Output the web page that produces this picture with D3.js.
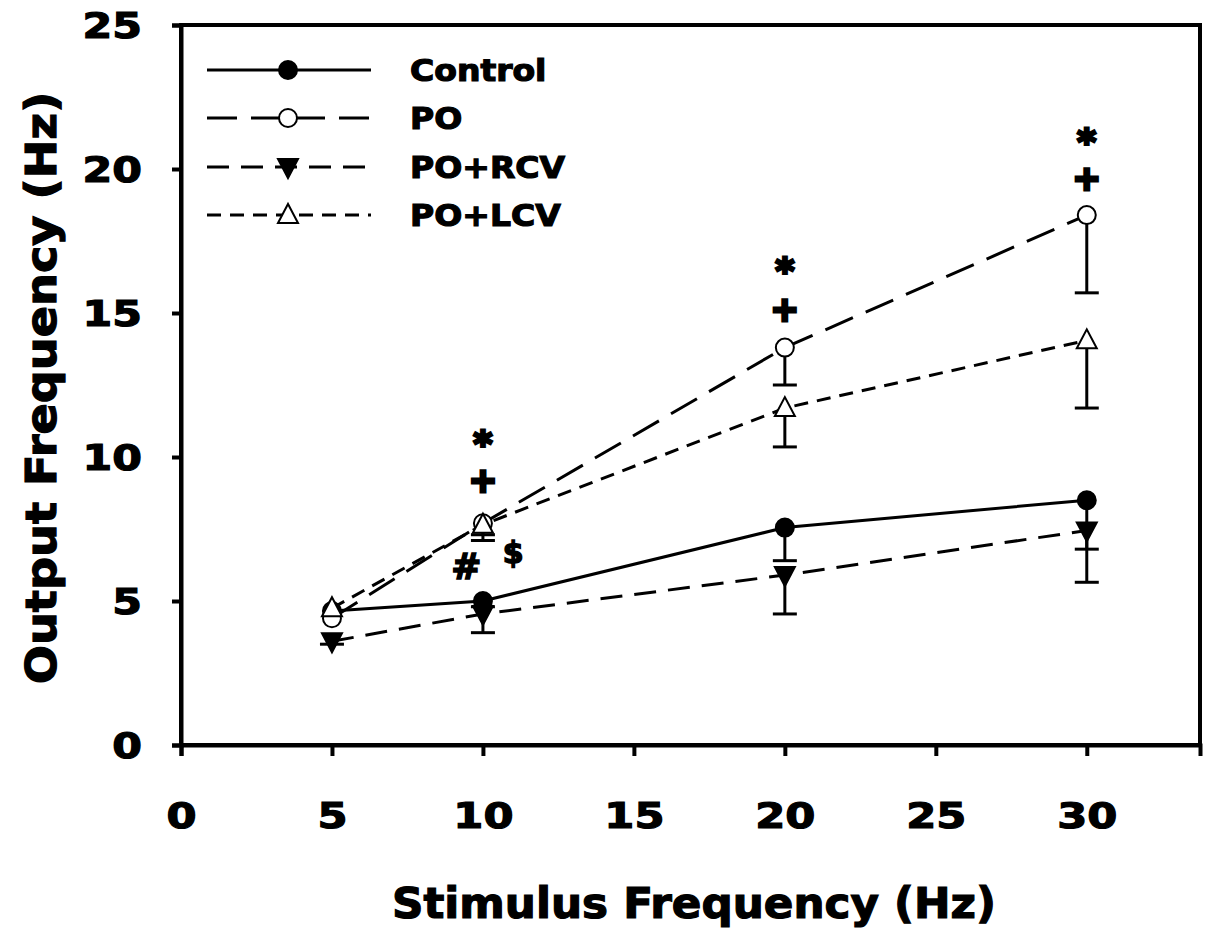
<!DOCTYPE html>
<html><head><meta charset="utf-8">
<script src="https://cdn.jsdelivr.net/npm/d3@7"></script>
<style>body{margin:0;background:#fff}</style>
</head><body><svg id="c" width="1206" height="930"></svg>
<script>
const stimulus = [5, 10, 20, 30];
const seriesNames = ["Control", "PO", "PO+RCV", "PO+LCV"];
const controlMean = [4.65, 5.0, 7.55, 8.5];
const controlLow  = [4.65, 4.8, 6.4, 6.8];
const poMean      = [4.4, 7.7, 13.8, 18.4];
const poLow       = [4.4, 7.3, 12.5, 15.7];
const rcvMean     = [3.6, 4.55, 5.9, 7.45];
const rcvLow      = [3.5, 3.9, 4.55, 5.65];
const lcvMean     = [4.75, 7.65, 11.7, 14.05];
const lcvLow      = [4.75, 7.1, 10.35, 11.7];
const xTicks = [0, 5, 10, 15, 20, 25, 30];
const yTicks = [0, 5, 10, 15, 20, 25];
const annotations = [
  {x:10, y:10.8, t:"*"}, {x:10, y:9.2, t:"+"},
  {x:20, y:16.8, t:"*"}, {x:20, y:15.15, t:"+"},
  {x:30, y:21.3, t:"*"}, {x:30, y:19.7, t:"+"},
  {x:9.45, y:6.2, t:"#"}, {x:11.0, y:6.7, t:"$"}
];

const svg = d3.select("#c");
const L = 181, R = 1200, T = 25, B = 745;
const x = d3.scaleLinear().domain([0, 33.75]).range([L, R]);
const y = d3.scaleLinear().domain([0, 25]).range([B, T]);
const FONT = "'DejaVu Sans', sans-serif";

function heavy(sel, size, widen) {
  sel.attr("font-family", FONT).attr("font-weight", "bold").attr("font-size", size)
    .attr("fill", "#000").attr("stroke", "#000").attr("stroke-width", 1.2);
  sel.each(function () {
    const w = this.getComputedTextLength();
    d3.select(this).attr("textLength", w * widen).attr("lengthAdjust", "spacingAndGlyphs");
  });
}

// frame
svg.append("rect").attr("x", L).attr("y", T).attr("width", R - L).attr("height", B - T)
  .attr("fill", "none").attr("stroke", "#000").attr("stroke-width", 4);

// axes
const yAxis = svg.append("g").attr("transform", `translate(${L},0)`)
  .call(d3.axisLeft(y).tickValues(yTicks).tickSize(9).tickPadding(30));
const xAxis = svg.append("g").attr("transform", `translate(0,${B})`)
  .call(d3.axisBottom(x).tickValues(xTicks).tickSize(11).tickPadding(50));
[yAxis, xAxis].forEach(g => {
  g.select(".domain").attr("stroke-width", 4);
  g.selectAll(".tick line").attr("stroke-width", 4);
});
yAxis.selectAll(".tick text").attr("dy", "0.36em").call(heavy, 35, 1.22);
xAxis.selectAll(".tick text").attr("dy", "0.36em").attr("y", 70).call(heavy, 36, 1.2);

// titles
svg.append("text").attr("x", 694).attr("y", 918).attr("text-anchor", "middle")
  .text("Stimulus Frequency (Hz)").call(heavy, 42, 1.04);
svg.append("text").attr("transform", "translate(56,388) rotate(-90)").attr("text-anchor", "middle")
  .text("Output Frequency (Hz)").call(heavy, 42, 1.1);

const series = [
  {name: seriesNames[0], mean: controlMean, low: controlLow, dash: null, marker: "circle", fill: "#000"},
  {name: seriesNames[1], mean: poMean, low: poLow, dash: "30,14", marker: "circle", fill: "#fff"},
  {name: seriesNames[2], mean: rcvMean, low: rcvLow, dash: "22,12", marker: "down", fill: "#000"},
  {name: seriesNames[3], mean: lcvMean, low: lcvLow, dash: "14,9", marker: "up", fill: "#fff"}
];

const line = d3.line().x(d => x(d[0])).y(d => y(d[1]));

function marker(g, type, fill, cx, cy) {
  if (type === "circle") {
    g.append("circle").attr("cx", cx).attr("cy", cy).attr("r", 9)
      .attr("fill", fill).attr("stroke", "#000").attr("stroke-width", 2);
  } else {
    const s = type === "up" ? -1 : 1;
    const pts = [[cx - 10, cy - s * 8], [cx + 10, cy - s * 8], [cx, cy + s * 11]];
    g.append("path").attr("d", "M" + pts.join("L") + "Z")
      .attr("fill", fill).attr("stroke", "#000").attr("stroke-width", 2);
  }
}

const plot = svg.append("g");
// error bars
series.forEach(s => {
  stimulus.forEach((sx, i) => {
    if (s.low[i] < s.mean[i]) {
      plot.append("line").attr("x1", x(sx)).attr("x2", x(sx)).attr("y1", y(s.mean[i])).attr("y2", y(s.low[i]))
        .attr("stroke", "#000").attr("stroke-width", 3);
      plot.append("line").attr("x1", x(sx) - 12).attr("x2", x(sx) + 12).attr("y1", y(s.low[i])).attr("y2", y(s.low[i]))
        .attr("stroke", "#000").attr("stroke-width", 3);
    }
  });
});
// lines
series.forEach(s => {
  plot.append("path").datum(stimulus.map((sx, i) => [sx, s.mean[i]])).attr("d", line)
    .attr("fill", "none").attr("stroke", "#000").attr("stroke-width", 3)
    .attr("stroke-dasharray", s.dash);
});
// markers
series.forEach(s => {
  stimulus.forEach((sx, i) => marker(plot, s.marker, s.fill, x(sx), y(s.mean[i])));
});

// annotations
annotations.forEach(a => {
  const size = a.t === "*" ? 36 : a.t === "+" ? 34 : a.t === "#" ? 36 : 30;
  plot.append("text").attr("x", x(a.x)).attr("y", y(a.y)).attr("text-anchor", "middle")
    .attr("dy", a.t === "*" ? "0.62em" : "0.36em")
    .attr("font-family", FONT).attr("font-weight", "bold").attr("font-size", size)
    .attr("stroke", "#000").attr("stroke-width", a.t === "*" ? 3 : a.t === "+" ? 3 : 1.5)
    .text(a.t);
});

// legend
const leg = svg.append("g");
const legY = [70, 118, 167, 215];
series.forEach((s, i) => {
  leg.append("line").attr("x1", 207).attr("x2", 371).attr("y1", legY[i]).attr("y2", legY[i])
    .attr("stroke", "#000").attr("stroke-width", 3).attr("stroke-dasharray", s.dash);
  marker(leg, s.marker, s.fill, 288, legY[i]);
  leg.append("text").attr("x", 410).attr("y", legY[i]).attr("dy", "0.36em")
    .text(s.name).call(heavy, 30, 1.1);
});
</script></body></html>
